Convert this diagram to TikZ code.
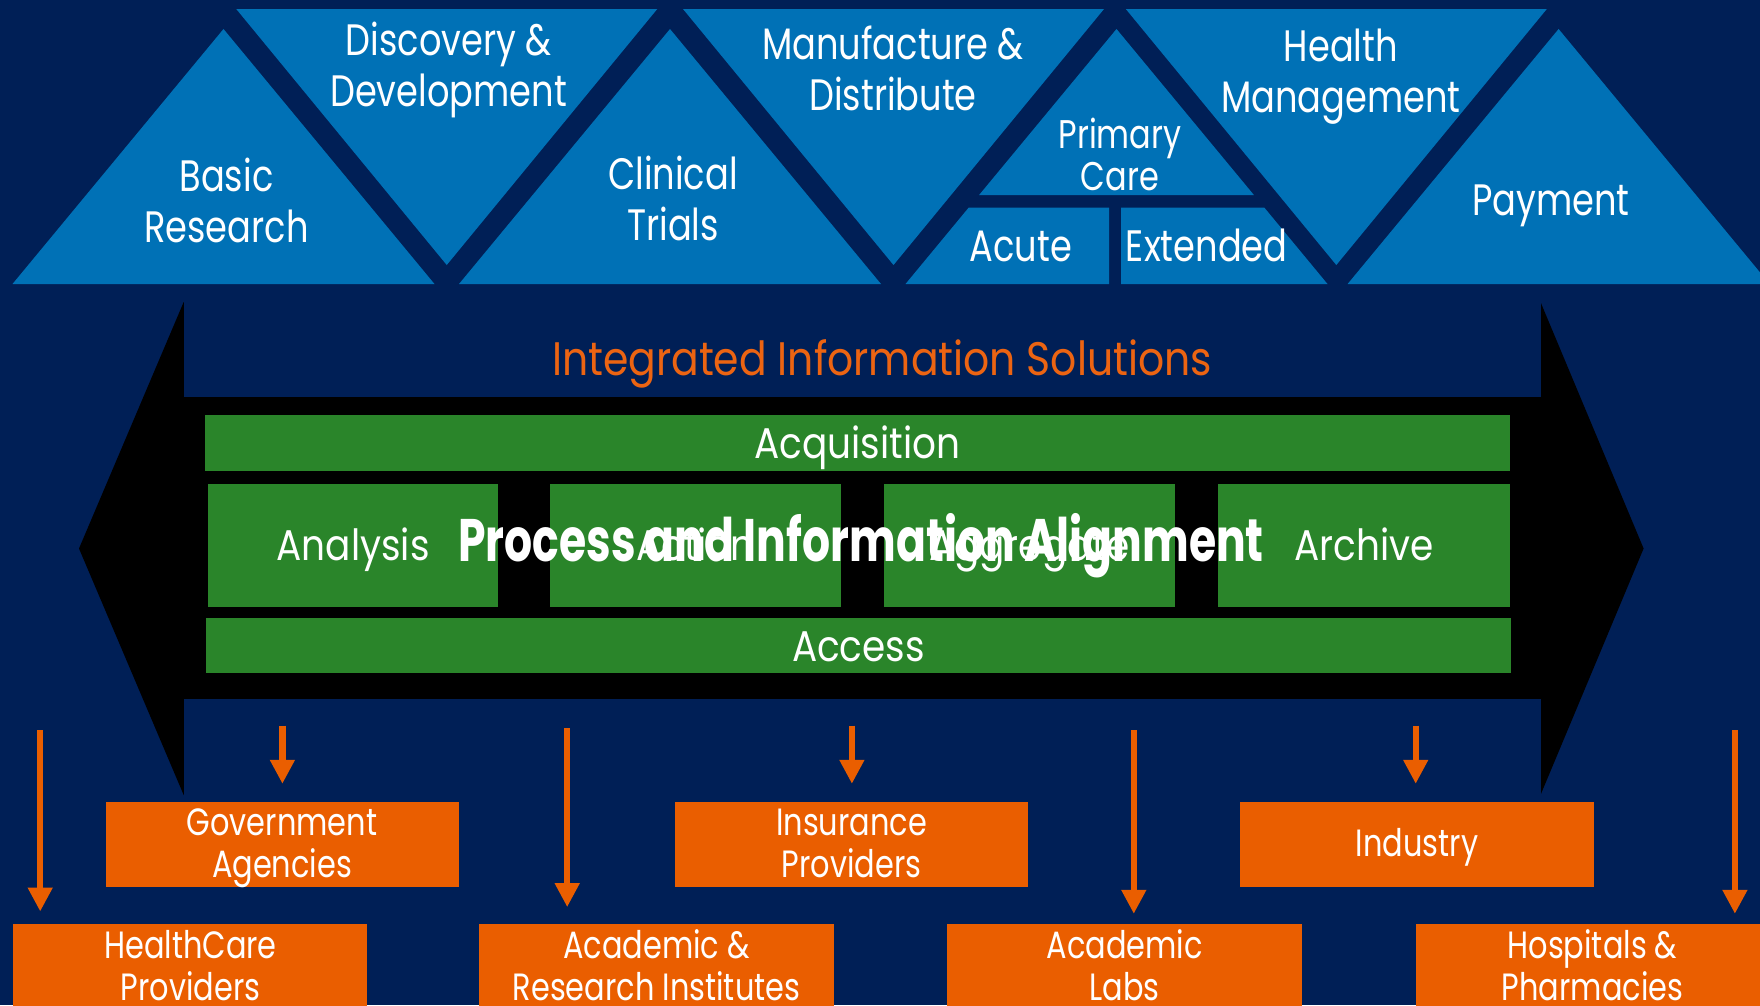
\documentclass[tikz,border=0pt]{standalone}
\usepackage{fontspec}
\setmainfont{Poppins}[FakeStretch=0.8]
\newfontfamily\boldfam{Poppins}[FakeStretch=0.735]
\newfontfamily\widefam{Poppins}[FakeStretch=0.87]
\usetikzlibrary{arrows.meta}
\definecolor{navy}{RGB}{0,31,86}
\definecolor{triblue}{RGB}{0,113,182}
\definecolor{grn}{RGB}{42,133,42}
\definecolor{obox}{RGB}{234,94,0}
\definecolor{otext}{RGB}{236,100,18}
\tikzset{
  tritext/.style={text=white, inner sep=0pt, align=center, anchor=base, font=\fontsize{44}{51}\selectfont},
  gbox/.style={fill=grn, inner sep=0pt, text=white, font=\widefam\fontsize{43}{50}\selectfont, text height=31pt, text depth=0pt},
  obx/.style={fill=obox, inner sep=0pt, minimum width=354pt},
  otxt/.style={text=white, inner sep=0pt, align=center, anchor=base, font=\fontsize{38}{42}\selectfont},
  arr/.style={draw=obox, line width=6.3pt, -{Triangle[width=23.5pt,length=24pt]}},
}
\begin{document}
\begin{tikzpicture}[x=1pt,y=-1pt]
\useasboundingbox (0,0) rectangle (1760,1005);
\clip (0,0) rectangle (1760,1005);
\fill[navy] (0,0) rectangle (1760,1005);
% upright triangles
\fill[triblue] (223.5,29) -- (434.5,284) -- (12.5,284) -- cycle;
\fill[triblue] (670,29) -- (881,284) -- (459,284) -- cycle;
\fill[triblue] (1558.6,29) -- (1769.6,284) -- (1347.6,284) -- cycle;
% primary care triangle, split
\fill[triblue] (1116.5,29) -- (1253.9,195) -- (979.1,195) -- cycle;
\fill[triblue] (968.6,207.7) -- (1109,207.7) -- (1109,284) -- (905.5,284) -- cycle;
\fill[triblue] (1121,207.7) -- (1264.4,207.7) -- (1327.5,284) -- (1121,284) -- cycle;
% inverted triangles
\fill[triblue] (236.25,9) -- (657.25,9) -- (446.75,265) -- cycle;
\fill[triblue] (683,9) -- (1104,9) -- (893.5,265) -- cycle;
\fill[triblue] (1125.8,9) -- (1546.8,9) -- (1336.3,265) -- cycle;
% triangle labels (anchor base = last line's baseline)
\node[tritext] (basic) at (226.5,242.7) {Basic\\Research};
\node[tritext] (disc) at (448.6,106.5) {Discovery \&\\Development};
\node[tritext] (clin) at (673,240.5) {Clinical\\Trials};
\node[tritext] (manu) at (893,110.5) {Manufacture \&\\Distribute};
\node[tritext, font=\fontsize{40}{42}\selectfont] (prim) at (1120,190) {Primary\\Care};
\node[tritext] (acute) at (1020.7,261.7) {Acute};
\node[tritext] (ext) at (1206.7,261.7) {Extended};
\node[tritext] (health) at (1340.8,112) {Health\\Management};
\node[tritext] (pay) at (1551,215) {Payment};
% black double arrow
\fill[black] (79,548.5) -- (183.7,302) -- (1540.5,302) -- (1643.6,548.5) -- (1540.5,795) -- (183.7,795) -- cycle;
\fill[navy] (183.7,301) rectangle (1540.5,397.3);
\fill[navy] (183.7,699.3) rectangle (1540.5,796);
\node[text=otext, inner sep=0pt, anchor=base, font=\widefam\fontsize{47}{54}\selectfont] (iis) at (882,375) {Integrated Information Solutions};
% green boxes
\node[gbox, minimum width=1305pt, minimum height=55.7pt] (acq) at (857.5,442.85) {Acquisition};
\node[gbox, minimum width=290.5pt, minimum height=122.7pt] (ana) at (353.05,545.35) {Analysis};
\node[gbox, minimum width=291pt, minimum height=122.7pt] (act) at (695.5,545.35) {Action};
\node[gbox, minimum width=290.6pt, minimum height=122.7pt] (agg) at (1029.3,545.35) {Aggregate};
\node[gbox, minimum width=292pt, minimum height=122.7pt] (arc) at (1364,545.35) {Archive};
\node[gbox, minimum width=1305pt, minimum height=55pt] (acc) at (858.5,645.8) {Access};
\node[text=white, inner sep=0pt, anchor=base, font=\boldfam\bfseries\fontsize{60}{66}\selectfont] (pia) at (861,561.7) {Process and Information Alignment};
% orange boxes
\node[obx, minimum width=353pt, minimum height=84.7pt] (gov) at (282.7,844.35) {};
\node[obx, minimum width=353.2pt, minimum height=84.7pt] (ins) at (851.6,844.35) {};
\node[obx, minimum width=354.2pt, minimum height=84.7pt] (ind) at (1417.1,844.35) {};
\node[obx, minimum width=354.8pt, minimum height=90pt] (hc) at (190,969) {};
\node[obx, minimum width=354.2pt, minimum height=90pt] (ar) at (656.4,969) {};
\node[obx, minimum width=354.7pt, minimum height=90pt] (al) at (1124.65,969) {};
\node[obx, minimum width=353.7pt, minimum height=90pt] (hp) at (1593.15,969) {};
\node[otxt] (govt) at (282,877) {Government\\Agencies};
\node[otxt] (inst) at (851.6,877) {Insurance\\Providers};
\node[otxt] (indt) at (1417,856.7) {Industry};
\node[otxt] (hct) at (190.5,1000) {HealthCare\\Providers};
\node[otxt] (art) at (656.5,1000) {Academic \&\\Research Institutes};
\node[otxt] (alt) at (1124.7,1000) {Academic\\Labs};
\node[otxt] (hpt) at (1592.5,1000) {Hospitals \&\\Pharmacies};
% arrows
\coordinate (sa1) at (282.4,725.7);
\coordinate (sa2) at (851.9,725.7);
\coordinate (sa3) at (1415.7,725.7);
\coordinate (la1) at (40.2,730);
\coordinate (la2) at (567.2,728.3);
\coordinate (la3) at (1133.8,730);
\coordinate (la4) at (1734.9,730);
\draw[arr, shorten >=18pt] (sa1) -- (sa1 |- gov.north);
\draw[arr, shorten >=18pt] (sa2) -- (sa2 |- ins.north);
\draw[arr, shorten >=18pt] (sa3) -- (sa3 |- ind.north);
\draw[arr, shorten >=12.3pt] (la1) -- (la1 |- hc.north);
\draw[arr, shorten >=16.7pt] (la2) -- (la2 |- ar.north);
\draw[arr, shorten >=10pt] (la3) -- (la3 |- al.north);
\draw[arr, shorten >=10pt] (la4) -- (la4 |- hp.north);
\end{tikzpicture}
\end{document}
